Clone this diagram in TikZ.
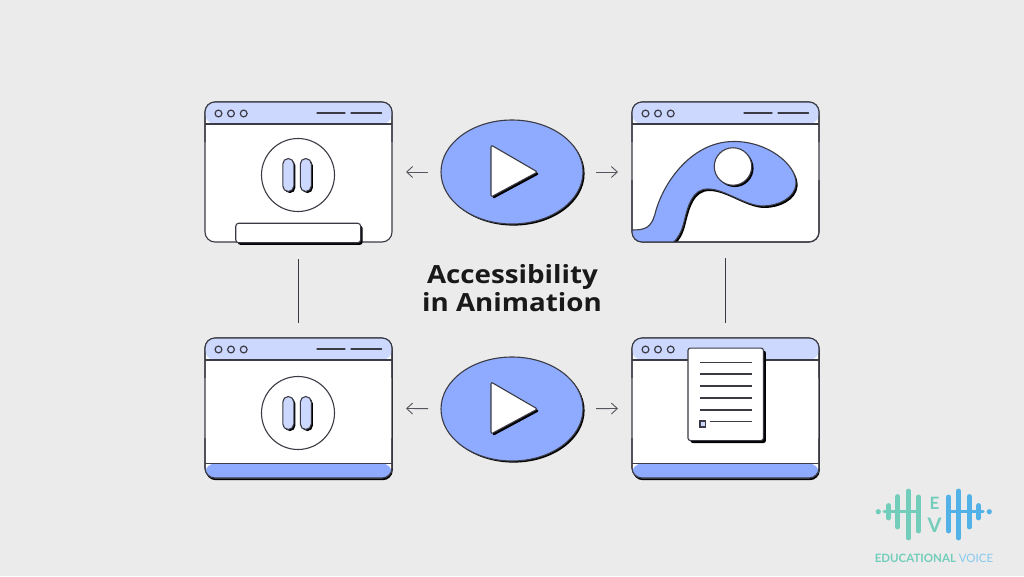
\documentclass[tikz,border=0pt]{standalone}
\usepackage{fontspec}
\setmainfont{Lato}
\newfontfamily\titlefont[FakeStretch=1.11]{Open Sans}
\usetikzlibrary{shapes.geometric,shadows,arrows.meta}
\definecolor{bgc}{HTML}{EBEBEB}
\definecolor{barc}{HTML}{CDD8FF}
\definecolor{bluec}{HTML}{8FABFF}
\definecolor{inkc}{HTML}{3A3B44}
\definecolor{tealc}{HTML}{72CDBA}
\definecolor{skyc}{HTML}{52B2E8}
\tikzset{
  ink/.style={draw=inkc,line width=1.1pt},
  window/.style={ink,fill=white,rounded corners=10pt,rectangle,minimum width=187pt,minimum height=140pt,inner sep=0pt,outer sep=0pt},
  shadowed/.style={drop shadow={shadow xshift=#1,shadow yshift=-#1,fill=black,opacity=1}},
  flatwin/.style={window},
  lowwin/.style={window,drop shadow={shadow xshift=0.8pt,shadow yshift=-2.2pt,fill=black,opacity=1}},
  playdisc/.style={ellipse,ink,fill=bluec,minimum width=142pt,minimum height=104pt,inner sep=0pt,outer sep=0pt,shadowed=1.6pt},
  thin arrow/.style={draw=inkc!85!bgc,line width=0.9pt,-{Straight Barb[length=6pt,width=11pt,line width=0.9pt]}},
  link/.style={draw=inkc,line width=0.9pt},
  ringc/.style={circle,ink,fill=white,minimum size=#1,inner sep=0pt,outer sep=0pt},
  pill/.style={rectangle,rounded corners=5.5pt,ink,fill=barc,minimum width=11pt,minimum height=33pt,inner sep=0pt,shadowed=1.6pt},
  dotc/.style={ink,fill=none,line width=1.2pt},
  bar/.style={line width=1.3pt,draw=inkc,line cap=round},
  logo/.style={line width=#1,line cap=round},
  title/.style={font=\titlefont\fontsize{25}{30}\selectfont\bfseries,text=black!90,inner sep=0pt,anchor=base}
}
% window chrome: #1 name, #2 left x, #3 top y
\newcommand{\chrome}[3]{%
  \fill[barc,rounded corners=10pt] (#2,#3+22) -- (#2,#3) -- (#2+187,#3) -- (#2+187,#3+22) -- cycle;
  \draw[ink] (#2,#3+22) -- (#2+187,#3+22);
  \draw[ink,rounded corners=10pt] (#2,#3+40) -- (#2,#3) -- (#2+187,#3) -- (#2+187,#3+40);
  \foreach \d in {13.5,26,38.7} \draw[dotc] (#2+\d,#3+11.5) circle (3.4);
}
\newcommand{\headlines}[2]{%
  \draw[bar] (#1+112,#2+11) -- (#1+140,#2+11);
  \draw[bar] (#1+146,#2+11) -- (#1+176.5,#2+11);
}
\newcommand{\footerband}[2]{%
  \fill[bluec,rounded corners=10pt] (#1,#2+125.5) -- (#1,#2+140) -- (#1+187,#2+140) -- (#1+187,#2+125.5) -- cycle;
  \draw[ink] (#1,#2+125.5) -- (#1+187,#2+125.5);
  \draw[ink,rounded corners=10pt] (#1,#2+100) -- (#1,#2+140) -- (#1+187,#2+140) -- (#1+187,#2+100);
}
\newcommand{\playglyph}[2]{% centre x, y
  \draw[ink,fill=white,rounded corners=2pt,drop shadow={shadow xshift=1.8pt,shadow yshift=-2pt,fill=black,opacity=1}]
    (#1-21,#2-27) -- (#1+25.5,#2) -- (#1-21,#2+25) -- cycle;
}
\begin{document}
\begin{tikzpicture}[x=1pt,y=-1pt]
\useasboundingbox (0,0) rectangle (1024,576);
\fill[bgc] (0,0) rectangle (1024,576);

% windows
\node[flatwin] (win1) at (298.5,172) {};
\node[flatwin] (win2) at (725.5,172) {};
\node[lowwin] (win3) at (298.5,408) {};
\node[lowwin] (win4) at (725.5,408) {};

% top-right scene
\begin{scope}
  \clip[rounded corners=10pt] (632,102) rectangle (819,242);
  \draw[ink,fill=bluec,drop shadow={shadow xshift=1.6pt,shadow yshift=-2pt,fill=black,opacity=1}]
    (625,230) -- (632,230) .. controls (645,230) and (651,228) .. (655,214)
    .. controls (662,185) and (690,142) .. (733,141.5)
    .. controls (768,141) and (797,165) .. (796,184)
    .. controls (795,198) and (778,206) .. (763,206)
    .. controls (745,206) and (725,189) .. (708,189)
    .. controls (692,189) and (688,206) .. (684,222)
    .. controls (681,235) and (675,245) .. (660,250)
    -- (625,250) -- cycle;
\end{scope}
\node[ringc=37.5pt,shadowed=1.8pt] (ball) at (733,166.5) {};

\chrome{win1}{205}{102}
\headlines{205}{102}
\chrome{win2}{632}{102}
\headlines{632}{102}
\chrome{win3}{205}{338}
\headlines{205}{338}
\chrome{win4}{632}{338}
\footerband{205}{338}
\footerband{632}{338}

% redraw top-right lower border over blob
\draw[ink,rounded corners=10pt] (632,180) -- (632,242) -- (819,242) -- (819,180);

% pause icons
\node[ringc=73pt] (ring1) at (298,175) {};
\node[pill] (p1a) at (288.3,175) {};
\node[pill] (p1b) at (305.8,175) {};
\node[ringc=73pt] (ring3) at (298,413) {};
\node[pill] (p3a) at (288.3,413) {};
\node[pill] (p3b) at (305.8,413) {};

% caption bar
\node[rectangle,ink,fill=white,rounded corners=3pt,minimum width=125pt,minimum height=19.5pt,inner sep=0pt,
  drop shadow={shadow xshift=2pt,shadow yshift=-2.2pt,fill=black,opacity=1}] (cap) at (298.2,233) {};

% document
\node[rectangle,ink,fill=white,rounded corners=2.5pt,minimum width=75.5pt,minimum height=92.5pt,inner sep=0pt,
  drop shadow={shadow xshift=2.5pt,shadow yshift=-2.5pt,fill=black,opacity=1}] (doc) at (725.7,394.3) {};
\foreach \yy in {362.3,374,386,398,410} \draw[bar,line cap=butt] (700,\yy) -- (751.7,\yy);
\draw[bar,line cap=butt] (710,421.6) -- (751.7,421.6);
\draw[ink,fill=barc] (700,421) rectangle (705.8,427);

% play discs
\node[playdisc] (play1) at (512,172) {};
\node[playdisc] (play2) at (512,409) {};
\playglyph{512}{172}
\playglyph{512}{409}

% connectors
\draw[thin arrow,shorten <=13pt,shorten >=14pt] (play1) -- (win1);
\draw[thin arrow,shorten <=13pt,shorten >=14pt] (play1) -- (win2);
\draw[thin arrow,shorten <=13pt,shorten >=14pt] (play2) -- (win3);
\draw[thin arrow,shorten <=13pt,shorten >=14pt] (play2) -- (win4);
\draw[link,shorten <=17pt,shorten >=15pt] (win1.south) -- (win3.north);
\draw[link,shorten <=16pt,shorten >=15pt] (win2.south) -- (win4.north);

% title
\node[title] (t1) at (512.5,283.5) {Accessibility};
\node[title] (t2) at (512,311.5) {in Animation};

% logo
\fill[tealc] (878.3,511.7) circle (2.6);
\fill[skyc] (989.3,511.7) circle (2.6);
\begin{scope}[logo=4.8pt,draw=tealc]
  \draw (888.5,505.5) -- (888.5,518);
  \draw (897.7,496.5) -- (897.7,527);
  \draw (908.7,491) -- (908.7,538);
  \draw (918.7,497) -- (918.7,531);
  \draw[line width=3pt] (884,511.7) -- (918.7,511.7);
\end{scope}
\begin{scope}[logo=4.8pt,draw=skyc]
  \draw (948.7,497) -- (948.7,531);
  \draw (958.7,491) -- (958.7,538);
  \draw (969.3,496.5) -- (969.3,527);
  \draw (978.7,505.5) -- (978.7,518);
  \draw[line width=3pt] (948.7,511.7) -- (983,511.7);
\end{scope}
\node[inner sep=0pt,text=tealc,font=\fontsize{17}{18}\selectfont\bfseries] (lgE) at (934.5,503) {E};
\node[inner sep=0pt,text=tealc,font=\fontsize{20}{20}\selectfont\bfseries] (lgV) at (934.5,525.5) {V};
\node[inner sep=0pt,font=\fontsize{11.5}{12}\selectfont] (lgT) at (934,558.5) {\textcolor{tealc}{\textbf{EDUCATIONAL}} \textcolor{skyc!70!white}{VOICE}};
\end{tikzpicture}
\end{document}
